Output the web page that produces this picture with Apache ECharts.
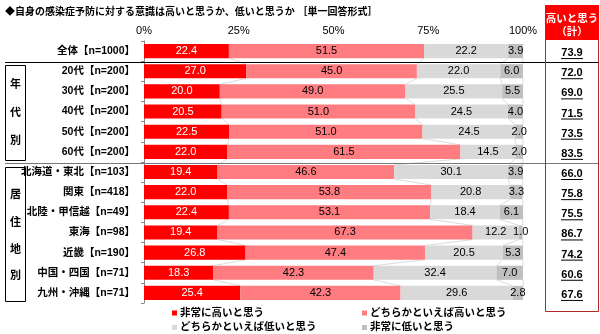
<!DOCTYPE html>
<html><head><meta charset="utf-8">
<script src="https://cdn.jsdelivr.net/npm/echarts@6/dist/echarts.min.js"></script>
<style>html,body{margin:0;padding:0;background:#fff}#c{width:600px;height:334px}</style>
</head><body><div id="c"></div>
<script>
const categories = ['全体【n=1000】','20代【n=200】','30代【n=200】','40代【n=200】','50代【n=200】','60代【n=200】','北海道・東北【n=103】','関東【n=418】','北陸・甲信越【n=49】','東海【n=98】','近畿【n=190】','中国・四国【n=71】','九州・沖縄【n=71】'];
const veryHigh   = [22.4, 27.0, 20.0, 20.5, 22.5, 22.0, 19.4, 22.0, 22.4, 19.4, 26.8, 18.3, 25.4];
const ratherHigh = [51.5, 45.0, 49.0, 51.0, 51.0, 61.5, 46.6, 53.8, 53.1, 67.3, 47.4, 42.3, 42.3];
const ratherLow  = [22.2, 22.0, 25.5, 24.5, 24.5, 14.5, 30.1, 20.8, 18.4, 12.2, 20.5, 32.4, 29.6];
const veryLow    = [3.9, 6.0, 5.5, 4.0, 2.0, 2.0, 3.9, 3.3, 6.1, 1.0, 5.3, 7.0, 2.8];
const highTotal  = [73.9, 72.0, 69.0, 71.5, 73.5, 83.5, 66.0, 75.8, 75.5, 86.7, 74.2, 60.6, 67.6];
const seriesNames = ['非常に高いと思う','どちらかといえば高いと思う','どちらかといえば低いと思う','非常に低いと思う'];
const xTickValues = [0, 25, 50, 75, 100];

const FONT = "'Liberation Sans','Noto Sans CJK JP',sans-serif";
const colors = ['#FF0000', '#FF7C80', '#D9D9D9', '#BFBFBF'];
const values = [veryHigh, ratherHigh, ratherLow, veryLow];
const cum = values.map((_, k) => categories.map((c, i) => values.slice(0, k + 1).reduce((s, a) => s + a[i], 0)));

const chart = echarts.init(document.getElementById('c'), null, {renderer: 'canvas'});

const barSeries = values.map((arr, k) => ({
  name: seriesNames[k], type: 'bar', stack: 'all', barWidth: '70%',
  data: arr, itemStyle: {color: colors[k]},
  label: {show: true, position: 'inside', color: k === 0 ? '#fff' : '#000',
    fontFamily: FONT, fontSize: 11, formatter: p => p.value.toFixed(1)},
  emphasis: {disabled: true}, silent: true, z: 2
}));

const seriesLines = {
  type: 'custom', silent: true, clip: false, z: 1,
  data: categories.slice(0, -1).map((c, i) => [0, i]),
  encode: {x: 0, y: 1},
  renderItem: (params, api) => {
    const i = params.dataIndex;
    const band = api.size([0, 1])[1];
    const half = band * 0.35;
    const children = [];
    for (let k = 0; k < 4; k++) {
      const a = api.coord([cum[k][i], i]);
      const b = api.coord([cum[k][i + 1], i + 1]);
      children.push({type: 'line', shape: {x1: a[0], y1: a[1] + half, x2: b[0], y2: b[1] - half},
        style: {stroke: '#CCCCCC', lineWidth: 0.7}});
    }
    return {type: 'group', children};
  }
};

const totals = {
  type: 'custom', silent: true, clip: false, z: 5,
  data: highTotal.map((v, i) => [v, i]),
  encode: {x: 0, y: 1},
  renderItem: (params, api) => {
    const i = params.dataIndex;
    const p = api.coord([100, i]);
    const cx = p[0] + 49, cy = p[1] + 2;
    const txt = highTotal[i].toFixed(1);
    return {type: 'group', children: [
      {type: 'text', style: {text: txt, x: cx, y: cy, align: 'center', verticalAlign: 'middle',
        font: "bold 11px " + FONT, fill: '#000'}},
      {type: 'line', shape: {x1: cx - 11, y1: cy + 5.5, x2: cx + 11, y2: cy + 5.5},
        style: {stroke: '#000', lineWidth: 1}}
    ]};
  }
};

const legendText = {fontFamily: FONT, fontSize: 10.5, fontWeight: 'bold', color: '#000', lineHeight: 12, padding: [0, 0, 0, -2]};

chart.setOption({
  animation: false,
  title: {text: '◆自身の感染症予防に対する意識は高いと思うか、低いと思うか ［単一回答形式］',
    left: 5, top: 7, padding: 0,
    textStyle: {fontFamily: FONT, fontSize: 10, fontWeight: 'bold', color: '#000'}},
  legend: [
    {data: [seriesNames[0], seriesNames[2]], orient: 'vertical', left: 172, top: 307, padding: 0,
      itemWidth: 5, itemHeight: 5, itemGap: 2.5, icon: 'rect', selectedMode: false, textStyle: legendText},
    {data: [seriesNames[1], seriesNames[3]], orient: 'vertical', left: 362, top: 307, padding: 0,
      itemWidth: 5, itemHeight: 5, itemGap: 2.5, icon: 'rect', selectedMode: false, textStyle: legendText}
  ],
  grid: {left: 144, right: 77, top: 41, bottom: 31, containLabel: false},
  xAxis: {type: 'value', position: 'top', min: 0, max: 100, interval: 25,
    axisLine: {show: false}, axisTick: {show: false}, splitLine: {show: false},
    axisLabel: {fontFamily: FONT, fontSize: 11, color: '#000', margin: 5,
      formatter: v => xTickValues.includes(v) ? v + '%' : ''}},
  yAxis: {type: 'category', inverse: true, data: categories,
    axisLine: {show: true, lineStyle: {color: '#888', width: 1}},
    axisTick: {show: true, length: 3, lineStyle: {color: '#888'}},
    axisLabel: {fontFamily: FONT, fontSize: 10.5, fontWeight: 'bold', color: '#000', margin: 9}},
  graphic: [
    {type: 'line', shape: {x1: 5, y1: 62.5, x2: 599, y2: 62.5}, style: {stroke: '#000', lineWidth: 1}, z: 10},
    {type: 'line', shape: {x1: 5, y1: 163.5, x2: 599, y2: 163.5}, style: {stroke: '#777', lineWidth: 1}, z: 10},
    {type: 'rect', shape: {x: 5.5, y: 65.5, width: 20, height: 95}, style: {fill: 'none', stroke: '#000', lineWidth: 1}},
    {type: 'rect', shape: {x: 5.5, y: 167.5, width: 20, height: 134}, style: {fill: 'none', stroke: '#000', lineWidth: 1}},
    {type: 'text', style: {text: '年', x: 15.5, y: 85, align: 'center', verticalAlign: 'middle', font: 'bold 11px ' + FONT, fill: '#000'}},
    {type: 'text', style: {text: '代', x: 15.5, y: 113, align: 'center', verticalAlign: 'middle', font: 'bold 11px ' + FONT, fill: '#000'}},
    {type: 'text', style: {text: '別', x: 15.5, y: 141, align: 'center', verticalAlign: 'middle', font: 'bold 11px ' + FONT, fill: '#000'}},
    {type: 'text', style: {text: '居', x: 15.5, y: 195, align: 'center', verticalAlign: 'middle', font: 'bold 11px ' + FONT, fill: '#000'}},
    {type: 'text', style: {text: '住', x: 15.5, y: 223, align: 'center', verticalAlign: 'middle', font: 'bold 11px ' + FONT, fill: '#000'}},
    {type: 'text', style: {text: '地', x: 15.5, y: 250, align: 'center', verticalAlign: 'middle', font: 'bold 11px ' + FONT, fill: '#000'}},
    {type: 'text', style: {text: '別', x: 15.5, y: 276, align: 'center', verticalAlign: 'middle', font: 'bold 11px ' + FONT, fill: '#000'}},
    {type: 'rect', shape: {x: 545.5, y: 5.5, width: 53, height: 306}, style: {fill: 'none', stroke: '#B02828', lineWidth: 1}, z: 11},
    {type: 'rect', shape: {x: 545.5, y: 5.5, width: 53, height: 34}, style: {fill: '#FF0000', stroke: '#FF0000', lineWidth: 1}, z: 12},
    {type: 'text', style: {text: '高いと思う', x: 572, y: 19, align: 'center', verticalAlign: 'middle', font: 'bold 10.5px ' + FONT, fill: '#fff'}, z: 13},
    {type: 'text', style: {text: '（計）', x: 572, y: 32, align: 'center', verticalAlign: 'middle', font: 'bold 10.5px ' + FONT, fill: '#fff'}, z: 13}
  ],
  series: [...barSeries, seriesLines, totals]
});
</script>
</body></html>
